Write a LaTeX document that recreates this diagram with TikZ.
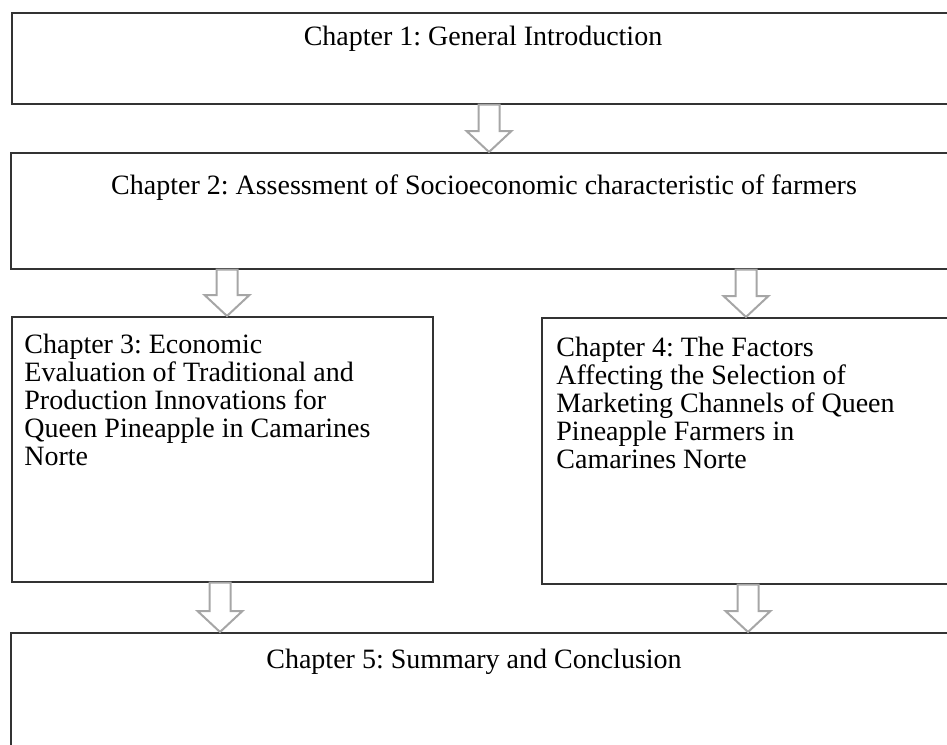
\documentclass[tikz,border=0pt]{standalone}
\usepackage{fontspec}
\setmainfont{Liberation Serif}
\usetikzlibrary{positioning,calc}

\tikzset{
  chapbox/.style={draw=black!80, line width=0.75pt, rectangle, inner sep=0pt, anchor=north west},
  chaptext/.style={inner sep=0pt, font=\fontsize{14}{14}\selectfont},
  arrowline/.style={draw=black!35, line width=1pt, line join=miter},
}

% hollow block arrow pointing down, from #1 (tail) to #2 (tip)
\newcommand{\hollowarrow}[2]{%
  \draw[arrowline] let \p1=(#1), \p2=(#2) in
    (\x1-5.25pt,\y1) -- (\x1+5.25pt,\y1) -- (\x1+5.25pt,\y2+10.5pt)
    -- (\x1+11.25pt,\y2+10.5pt) -- (\x1,\y2) -- (\x1-11.25pt,\y2+10.5pt)
    -- (\x1-5.25pt,\y2+10.5pt) -- cycle;}

\begin{document}
\frenchspacing
\begin{tikzpicture}[x=0.5pt, y=-0.5pt]

    \useasboundingbox (0,0) rectangle (947,744);

    % boxes
    \node[chapbox, minimum width=474.5pt, minimum height=45.5pt] (ch1) at (11,12) {};
    \node[chapbox, minimum width=475pt, minimum height=58pt] (ch2) at (10,152) {};
    \node[chapbox, minimum width=210.5pt, minimum height=132.5pt] (ch3) at (11,316) {};
    \node[chapbox, minimum width=209.5pt, minimum height=133pt] (ch4) at (541,317) {};
    \node[chapbox, minimum width=475pt, minimum height=65pt] (ch5) at (10,632) {};

    % texts
    \node[chaptext, anchor=base] (t1) at (483,45) {Chapter 1: General Introduction};
    \node[chaptext, anchor=base] (t2) at (484,194) {Chapter 2: Assessment of Socioeconomic characteristic of farmers};
    \node[chaptext, anchor=north west, align=left] (t3) at (24,334)
        {Chapter 3: Economic\\ Evaluation of Traditional and\\ Production Innovations for\\ Queen Pineapple in Camarines\\ Norte};
    \node[chaptext, anchor=north west, align=left] (t4) at (556,337)
        {Chapter 4: The Factors\\ Affecting the Selection of\\ Marketing Channels of Queen\\ Pineapple Farmers in\\ Camarines Norte};
    \node[chaptext, anchor=base] (t5) at (474,668) {Chapter 5: Summary and Conclusion};

    % arrows
    \coordinate (a1) at (ch1.south -| 489,0);
    \coordinate (a2) at (ch3.north -| 227,0);
    \coordinate (a3) at (ch4.north -| 746,0);
    \coordinate (a4) at (ch5.north -| 220,0);
    \coordinate (a5) at (ch5.north -| 748,0);

    \hollowarrow{a1}{ch2.north -| a1}
    \hollowarrow{ch2.south -| a2}{a2}
    \hollowarrow{ch2.south -| a3}{a3}
    \hollowarrow{ch3.south -| a4}{a4}
    \hollowarrow{ch4.south -| a5}{a5}

\end{tikzpicture}
\end{document}
